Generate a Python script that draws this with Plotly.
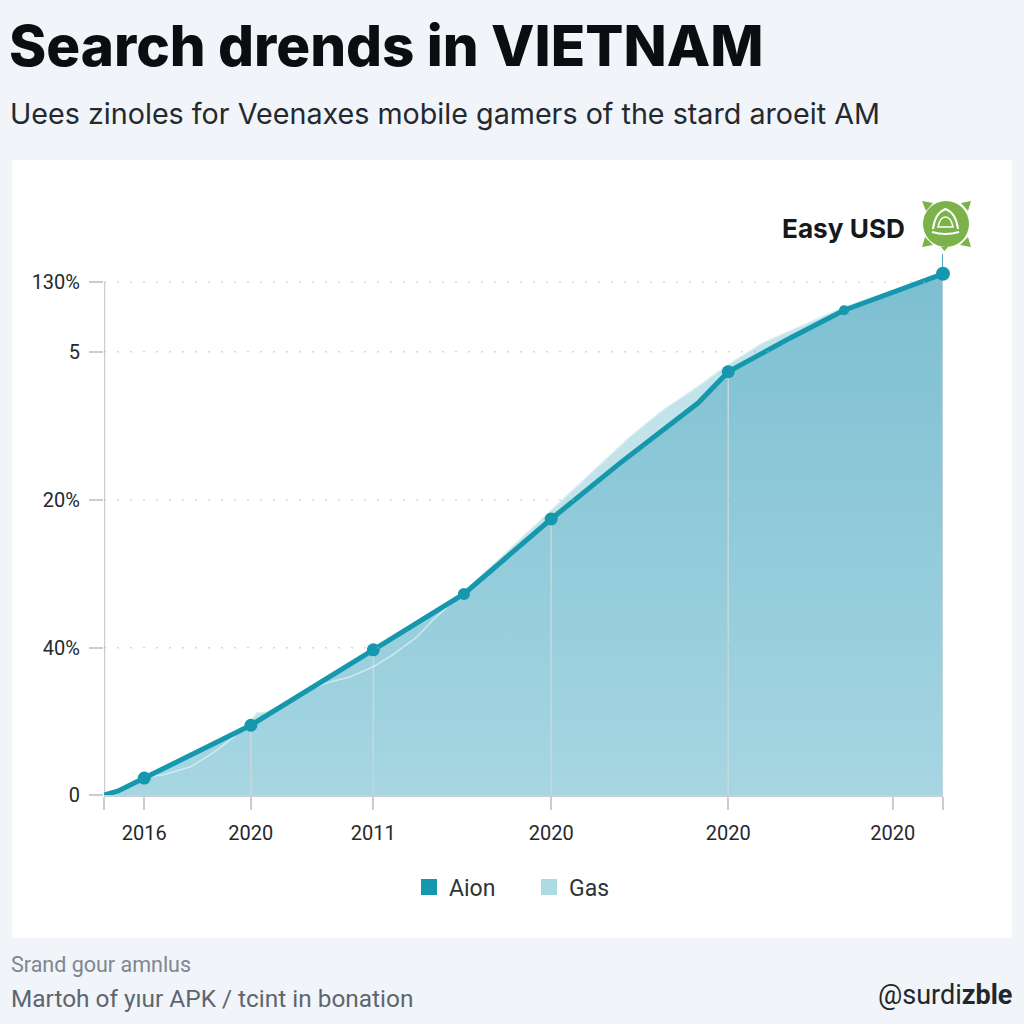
import plotly.graph_objects as go

# Data (x on a 0-100 position scale along the axis, y on a 0-100 height scale)
aion_x = [0.0, 1.7, 4.8, 17.5, 32.1, 42.9, 53.3, 61.5, 70.8, 74.4, 81.8, 88.2, 100.0]
aion_y = [0.0, 0.8, 3.3, 13.6, 28.3, 39.2, 53.8, 64.7, 76.4, 82.5, 89.1, 94.5, 101.6]
gas_x = [4.8, 7.0, 10.3, 13.0, 14.7, 17.4, 18.2, 19.4, 21.6, 24.6, 26.9, 29.3, 32.1, 34.4, 37.3, 39.2, 42.9,
         53.3, 58.8, 62.7, 66.6, 70.7, 74.3, 78.5, 88.2, 100.0]
gas_y = [3.5, 3.9, 5.5, 8.2, 10.3, 14.2, 16.0, 16.2, 17.7, 20.7, 22.0, 23.0, 25.0, 27.3, 30.8, 34.1, 39.6,
         55.6, 63.9, 69.8, 75.0, 79.5, 83.8, 88.1, 95.1, 101.4]
marker_x = [4.8, 17.5, 32.1, 42.9, 53.3, 74.4, 88.2, 100.0]
marker_y = [3.3, 13.6, 28.3, 39.2, 53.8, 82.5, 94.5, 101.6]
marker_size = [13, 13, 13, 12, 13, 13, 10, 14]
x_ticks = [0, 4.8, 17.5, 32.1, 53.3, 74.4, 94.0, 100]
x_labels = ["", "2016", "2020", "2011", "2020", "2020", "2020", ""]
y_ticks = [0, 28.7, 57.5, 86.4, 100]
y_labels = ["0", "40%", "20%", "5", "130%"]
drop_x = [17.5, 32.1, 53.3, 74.4]
drop_y = [13.6, 28.3, 53.8, 82.5]

TEAL = "#1597ad"
AXIS = "#c9ced2"
FONT = "Roboto, Inter, sans-serif"
W = H = 1024
px = lambda v: v / W
py = lambda v: 1 - v / H

fig = go.Figure()
fig.add_trace(go.Scatter(x=gas_x, y=gas_y, mode="lines", showlegend=False, hoverinfo="skip",
                         line=dict(color="rgba(0,0,0,0)", width=0), fill="tozeroy",
                         fillcolor="#c2e3e9"))
fig.add_trace(go.Scatter(x=aion_x, y=aion_y, mode="lines", showlegend=False,
                         line=dict(color="rgba(0,0,0,0)", width=0), fill="tozeroy",
                         fillgradient=dict(type="vertical",
                                           colorscale=[[0, "#a6d6e2"], [1, "#7cbfd1"]])))
dx, dy = [], []
for a, b in zip(drop_x, drop_y):
    dx += [a, a, None]
    dy += [0, b, None]
fig.add_trace(go.Scatter(x=dx, y=dy, mode="lines", showlegend=False, hoverinfo="skip",
                         line=dict(color="#c9d6da", width=1.5)))
fig.add_trace(go.Scatter(x=[0, 0], y=[0, 100], mode="lines", showlegend=False, hoverinfo="skip",
                         line=dict(color=AXIS, width=2.5), cliponaxis=False))
fig.add_trace(go.Scatter(x=[100, 100], y=[0, 101.6], mode="lines", showlegend=False, hoverinfo="skip",
                         line=dict(color="#c9d6da", width=1.5), cliponaxis=False))
fig.add_trace(go.Scatter(x=[100, 100], y=[101.6, 105.5], mode="lines", showlegend=False, hoverinfo="skip",
                         line=dict(color=TEAL, width=1.5), cliponaxis=False))
fig.add_trace(go.Scatter(x=gas_x, y=gas_y, mode="lines", showlegend=False, hoverinfo="skip",
                         line=dict(color="rgba(214,237,242,0.9)", width=1.5)))
fig.add_trace(go.Scatter(x=aion_x, y=aion_y, mode="lines", showlegend=False,
                         line=dict(color=TEAL, width=5), cliponaxis=False))
fig.add_trace(go.Scatter(x=marker_x, y=marker_y, mode="markers", showlegend=False,
                         marker=dict(color=TEAL, size=marker_size, opacity=1, line=dict(width=0)), cliponaxis=False))
fig.add_trace(go.Scatter(x=[None], y=[None], mode="markers", name="Aion",
                         marker=dict(symbol="square", color=TEAL, size=20, line=dict(width=0))))
fig.add_trace(go.Scatter(x=[None], y=[None], mode="markers", name="Gas",
                         marker=dict(symbol="square", color="#acdce2", size=20, line=dict(width=0))))

shapes = [
    dict(type="rect", xref="paper", yref="paper", x0=px(12), x1=px(1012), y0=py(938), y1=py(160),
         fillcolor="white", line_width=0, layer="below"),
]
for tick in y_ticks[1:]:
    shapes.append(dict(type="line", xref="x", yref="y", x0=0, x1=100, y0=tick, y1=tick, layer="above",
                       line=dict(color="rgba(175,182,188,0.5)", width=1.5, dash="2px 11px")))
# badge icon
G = "#7cb24a"
for pts in [[(922, 201), (933, 203), (926, 211)], [(971, 201), (961, 203), (968, 211)],
            [(922, 247), (925, 237), (933, 245)], [(971, 247), (968, 237), (960, 245)],
            [(941, 247), (948, 247), (944.5, 251)]]:
    path = "M" + " L".join(f"{px(a)},{py(b)}" for a, b in pts) + " Z"
    shapes.append(dict(type="path", xref="paper", yref="paper", path=path, fillcolor=G, line_width=0))
shapes.append(dict(type="circle", xref="paper", yref="paper", x0=px(923), x1=px(969), y0=py(247), y1=py(201),
                   fillcolor=G, line_width=0))
shapes.append(dict(type="path", xref="paper", yref="paper",
                   path=f"M{px(933)},{py(229)} Q{px(935)},{py(213)} {px(945.5)},{py(209)} Q{px(956)},{py(213)} {px(958)},{py(229)}",
                   line=dict(color="white", width=2)))
shapes.append(dict(type="path", xref="paper", yref="paper",
                   path=f"M{px(938)},{py(227)} Q{px(940)},{py(217)} {px(945.5)},{py(217)} Q{px(951)},{py(217)} {px(953)},{py(227)} Z",
                   line=dict(color="white", width=1.5)))
shapes.append(dict(type="path", xref="paper", yref="paper",
                   path=f"M{px(932)},{py(232)} Q{px(945.5)},{py(236)} {px(959)},{py(232)}",
                   line=dict(color="white", width=2)))


def note(text, x, y, size, color, weight=400, family=FONT, anchor="left"):
    return dict(text=text, xref="paper", yref="paper", x=px(x), y=py(y), xanchor=anchor, yanchor="middle",
                showarrow=False, font=dict(size=size, color=color, family=family, weight=weight))


INTER = "Inter, Roboto, sans-serif"
annotations = [
    note("Uees zinoles for Veenaxes mobile gamers of the stard aroeit AM", 8, 113, 28.7, "#24292e", family=INTER),
    note("Easy USD", 907, 228, 26.2, "#16191c", 700, family=INTER, anchor="right"),
    note("Srand gour amnlus", 9, 964, 21.5, "#7d8791"),
    note("Martoh of yıur APK / tcint in bonation", 9, 998, 24.4, "#5d6670"),
    note("@surdi<b>zble</b>", 1014, 995, 27, "#23272b", anchor="right"),
]

fig.update_layout(
    width=W, height=H, autosize=False, margin=dict(l=0, r=0, t=0, b=0, autoexpand=False),
    paper_bgcolor="#f1f4f9", plot_bgcolor="rgba(0,0,0,0)",
    title=dict(text="Search drends in VIETNAM", x=px(9), y=py(46), xanchor="left", yanchor="middle",
               font=dict(size=56.5, color="#0b0d10", family=INTER, weight=800)),
    xaxis=dict(domain=[px(104), px(943)], range=[0, 100], tickmode="array", tickvals=x_ticks, ticktext=x_labels,
               ticks="outside", ticklen=13, tickcolor=AXIS, tickwidth=1.5, showgrid=False, zeroline=False,
               showline=True, linecolor=AXIS, linewidth=2, anchor="y", ticklabelstandoff=6,
               tickfont=dict(size=20, color="#24292e", family=FONT)),
    yaxis=dict(domain=[py(795), py(230.7)], range=[0, 110], tickmode="array", tickvals=y_ticks, ticktext=y_labels,
               ticks="outside", ticklen=14, tickcolor=AXIS, tickwidth=1.5, showgrid=False, zeroline=False,
               showline=False, anchor="x", ticklabelstandoff=5,
               tickfont=dict(size=20, color="#24292e", family=FONT)),
    legend=dict(orientation="h", x=px(409), y=py(887), xanchor="left", yanchor="middle", bgcolor="rgba(0,0,0,0)",
                font=dict(size=23, color="#2e3439", family=FONT), itemwidth=30, tracegroupgap=0,
                entrywidth=75, entrywidthmode="pixels"),
    shapes=shapes, annotations=annotations,
)
fig.write_html("out.html", post_script="document.body.style.margin='0';", config={"displayModeBar": False})
